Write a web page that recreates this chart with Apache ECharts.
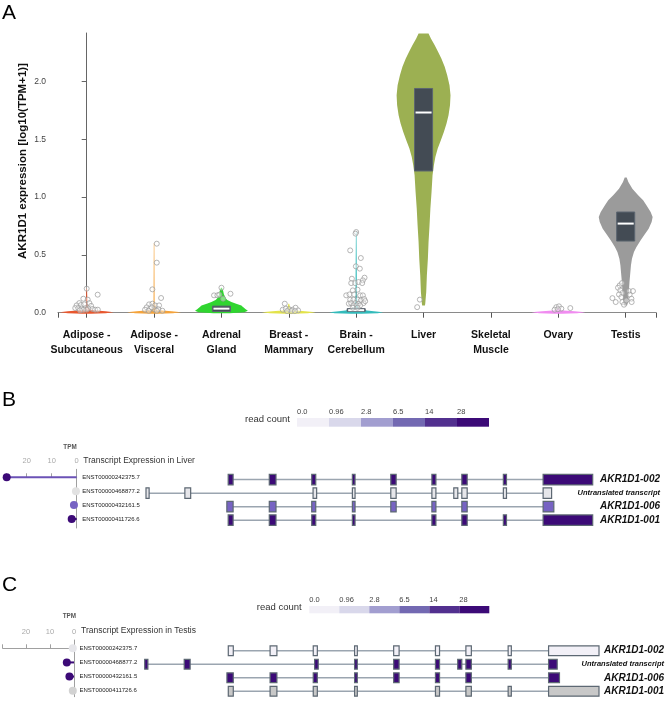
<!DOCTYPE html>
<html><head><meta charset="utf-8">
<script src="https://cdn.jsdelivr.net/npm/echarts@6/dist/echarts.min.js"></script>
<style>html,body{margin:0;padding:0;background:#fff}#c{width:667px;height:702px}</style>
</head><body><div id="c"></div>
<script>
// ---------- Panel A data ----------
const categories = ['Adipose -\nSubcutaneous','Adipose -\nVisceral','Adrenal\nGland','Breast -\nMammary','Brain -\nCerebellum','Liver','Skeletal\nMuscle','Ovary','Testis'];
const yTicks = [0, 0.5, 1.0, 1.5, 2.0];
// violin profiles: [value, relative half-width]
const violinSubc = [[-0.01,0.15],[-0.004,0.7],[0.004,1.0],[0.012,0.7],[0.02,0.35],[0.028,0.1],[0.06,0.03],[0.21,0.012]];
const violinVisc = [[-0.01,0.15],[-0.004,0.7],[0.004,1.0],[0.012,0.65],[0.02,0.3],[0.03,0.08],[0.1,0.02],[0.6,0.01]];
const violinAdrenal = [[-0.004,0.3],[0.004,0.85],[0.016,0.98],[0.03,0.9],[0.05,0.8],[0.063,0.74],[0.08,0.52],[0.092,0.37],[0.11,0.22],[0.121,0.17],[0.16,0.09],[0.193,0.06],[0.216,0.015]];
const violinBreast = [[-0.01,0.15],[-0.004,0.7],[0.004,1.0],[0.012,0.6],[0.02,0.25],[0.028,0.06],[0.078,0.015]];
const violinBrain = [[-0.01,0.2],[-0.004,0.8],[0.004,1.0],[0.012,0.65],[0.02,0.4],[0.03,0.22],[0.045,0.09],[0.08,0.04],[0.2,0.025],[0.4,0.02],[0.7,0.01]];
const violinLiver = [[0.063,0.05],[0.078,0.062],[0.179,0.099],[0.323,0.123],[0.467,0.16],[0.612,0.185],[0.756,0.222],[0.9,0.253],[1.044,0.296],[1.189,0.333],[1.275,0.383],[1.347,0.438],[1.42,0.525],[1.492,0.642],[1.564,0.753],[1.636,0.852],[1.708,0.926],[1.795,0.981],[1.881,1.0],[1.968,0.963],[2.055,0.877],[2.127,0.784],[2.199,0.66],[2.257,0.537],[2.314,0.414],[2.372,0.272],[2.415,0.185]];
const violinOvary = [[-0.01,0.15],[-0.004,0.7],[0.004,1.0],[0.012,0.6],[0.02,0.2],[0.028,0.06],[0.055,0.015]];
const violinTestis = [[0.063,0.05],[0.092,0.093],[0.265,0.141],[0.41,0.196],[0.467,0.233],[0.525,0.307],[0.568,0.4],[0.626,0.556],[0.675,0.696],[0.727,0.852],[0.785,0.963],[0.828,1.0],[0.871,0.926],[0.929,0.77],[0.972,0.648],[1.016,0.463],[1.073,0.248],[1.131,0.1],[1.169,0.037]];
const violins = [violinSubc, violinVisc, violinAdrenal, violinBreast, violinBrain, violinLiver, null, violinOvary, violinTestis];
// box stats: [q1, median, q3]
const boxAdrenal = [0.011, 0.035, 0.057];
const boxBrain = [0.012, 0.022, 0.035];
const boxLiver = [1.226, 1.732, 1.94];
const boxTestis = [0.62, 0.771, 0.871];
const boxes = [null, null, boxAdrenal, null, boxBrain, boxLiver, null, null, boxTestis];
// sample points: [jitter offset (category units), value]
const ptsSubc = [[0,0.208],[0.163,0.156],[-0.05,0.121],[0.015,0.113],[-0.11,0.083],[0.04,0.083],[-0.15,0.063],[-0.085,0.066],[-0.035,0.072],[0.065,0.059],[-0.17,0.04],[-0.125,0.04],[-0.075,0.036],[-0.015,0.04],[0.025,0.036],[0.085,0.032],[0.125,0.026],[0.165,0.026],[0,0.026],[-0.05,0.024],[-0.1,0.02]];
const ptsVisc = [[0.04,0.597],[0.04,0.433],[-0.025,0.202],[0.104,0.127],[-0.074,0.072],[-0.025,0.078],[-0.11,0.046],[0.015,0.063],[0.074,0.063],[-0.134,0.026],[-0.06,0.033],[0.005,0.03],[0.064,0.03],[0.123,0.017],[-0.08,0.017],[0.04,0.017],[-0.035,0.046]];
const ptsAdrenal = [[0,0.216],[-0.11,0.15],[-0.06,0.15],[-0.03,0.156],[0.134,0.164],[0.025,0.121]];
const ptsBreast = [[-0.06,0.078],[-0.09,0.026],[-0.045,0.035],[0.005,0.03],[0.055,0.026],[0.1,0.043],[0.138,0.02],[-0.025,0.014],[0.04,0.014],[0.09,0.014]];
const ptsBrain = [[0,0.698],[-0.01,0.684],[-0.089,0.539],[0.069,0.473],[-0.005,0.401],[0.054,0.381],[0.124,0.303],[-0.064,0.294],[0.099,0.28],[-0.074,0.256],[-0.015,0.256],[0.035,0.265],[0.089,0.256],[0.02,0.199],[-0.05,0.193],[-0.148,0.15],[-0.099,0.158],[-0.03,0.158],[0.059,0.15],[0.099,0.15],[-0.089,0.112],[-0.04,0.112],[0.02,0.112],[0.069,0.106],[0.119,0.118],[-0.109,0.078],[-0.074,0.083],[-0.015,0.083],[0.035,0.078],[0.109,0.083],[-0.04,0.063],[0.01,0.063],[0.059,0.063],[-0.05,0.043],[0.02,0.043],[0.134,0.1]];
const ptsLiver = [[-0.055,0.113],[-0.095,0.048]];
const ptsOvary = [[-0.03,0.048],[0.01,0.055],[0.045,0.035],[-0.055,0.026],[0.178,0.04],[-0.005,0.03]];
const ptsTestis = [[-0.089,0.236],[-0.055,0.256],[-0.114,0.216],[-0.079,0.193],[-0.049,0.17],[-0.099,0.158],[-0.064,0.135],[0.049,0.187],[0.108,0.187],[0.059,0.156],[0.085,0.121],[-0.197,0.126],[-0.148,0.092],[-0.049,0.092],[-0.025,0.069],[0.089,0.092],[0.01,0.106]];
const points = [ptsSubc, ptsVisc, ptsAdrenal, ptsBreast, ptsBrain, ptsLiver, [], ptsOvary, ptsTestis];

// ---------- Panels B / C data ----------
const transcriptIds = ['ENST00000242375.7','ENST00000468877.2','ENST00000432161.5','ENST00000411726.6'];
const transcriptNames = ['AKR1D1-002','Untranslated transcript','AKR1D1-006','AKR1D1-001'];
// exon [start, end] in relative gene coordinates (0-1000)
const exons002 = [[184,195],[276,291],[371,380],[462,468],[548,560],[640,649],[707,719],[800,807],[889,1000]];
const exonsUntr = [[0,7],[87,100],[374,382],[462,468],[548,560],[640,649],[689,698],[707,719],[800,807],[889,908]];
const exons006 = [[181,195],[276,291],[371,380],[462,468],[548,560],[640,649],[707,719],[889,913]];
const exons001 = [[184,195],[276,291],[371,380],[462,468],[640,649],[707,719],[800,807],[889,1000]];
const transcriptExons = [exons002, exonsUntr, exons006, exons001];
const tpmLiver = [28, 0.3, 1.1, 2.0];
const tpmTestis = [0.5, 3.0, 1.9, 0.5];
const tpmTicks = [0, 10, 20];
const readCountLabels = ['0.0','0.96','2.8','6.5','14','28'];

// ---------- styles ----------
const FONT = '"Liberation Sans", Arial, Helvetica, sans-serif';
const tissueColors = ['#e8572e','#f5a33a','#30d530','#e3e34a','#33bbbb','#9cb052','#aaaaff','#f08cf0','#9b9b9b'];
const legendColors = ['#f2f0f7','#d9d8eb','#a29ed0','#7369b2','#52308f','#3c0a77'];
const exonColorsLiver = ['#3c0a77','#e6e6ea','#7763c3','#3c0a77'];
const exonColorsTestis = ['#f2f0f7','#3c0a77','#3c0a77','#c8c8c8'];
const dotColorsLiver = ['#3c0a77','#e2e2e2','#7763c3','#3c0a77'];
const lineColorsLiver = ['#6b52b6','#e2e2e2','#7763c3','#3c0a77'];
const dotColorsTestis = ['#e6e6ea','#3c0a77','#3c0a77','#d2d2d2'];
const lineColorsTestis = ['#e6e6ea','#3c0a77','#3c0a77','#d2d2d2'];
const HALF = 0.4, BOXHALF = 0.134;

const chart = echarts.init(document.getElementById('c'), null, {renderer:'canvas', width:667, height:702});

function violinItem(params, api) {
  const i = api.value(0);
  const prof = violins[i];
  const children = [];
  if (prof) {
    const right = prof.map(p => api.coord([i + p[1]*HALF, p[0]]));
    const left = prof.slice().reverse().map(p => api.coord([i - p[1]*HALF, p[0]]));
    children.push({type:'polygon', shape:{points: right.concat(left)},
      style:{fill: tissueColors[i]}});
  }
  const b = boxes[i];
  if (b) {
    const p1 = api.coord([i - BOXHALF, b[2]]);
    const p2 = api.coord([i + BOXHALF, b[0]]);
    const pm1 = api.coord([i - BOXHALF, b[1]]);
    const pm2 = api.coord([i + BOXHALF, b[1]]);
    children.push({type:'rect', shape:{x:p1[0], y:p1[1], width:p2[0]-p1[0], height:p2[1]-p1[1]},
      style:{fill:'#434b54', stroke:'#5b6570', lineWidth:1}});
    children.push({type:'line', shape:{x1:pm1[0]+1, y1:pm1[1], x2:pm2[0]-1, y2:pm2[1]},
      style:{stroke:'#ffffff', lineWidth:2}});
  }
  return {type:'group', children};
}

function makeExonRender(colors, hf) {
  return function(params, api) {
    const row = api.value(0);
    const a = api.coord([api.value(1), row]);
    const b = api.coord([api.value(2), row]);
    const unit = Math.abs(api.coord([0, row+1])[1] - a[1]);
    const h = unit * hf;
    return {type:'rect', shape:{x:a[0], y:a[1]-h/2, width:Math.max(b[0]-a[0],2), height:h},
      style:{fill: colors[row], stroke:'#5d6873', lineWidth:1.2}};
  };
}
function intronRender(params, api) {
  const row = api.value(0);
  const a = api.coord([api.value(1), row]);
  const b = api.coord([api.value(2), row]);
  return {type:'line', shape:{x1:a[0], y1:a[1], x2:b[0], y2:b[1]}, style:{stroke:'#9ba5b0', lineWidth:1.5}};
}
function makeLollipop(dotColors, lineColors) {
  return function(params, api) {
    const row = api.value(0);
    const a = api.coord([0, row]);
    const b = api.coord([api.value(1), row]);
    return {type:'group', children:[
      {type:'line', shape:{x1:a[0], y1:a[1], x2:b[0], y2:b[1]}, style:{stroke:lineColors[row], lineWidth:2}},
      {type:'circle', shape:{cx:b[0], cy:b[1], r:4}, style:{fill:dotColors[row]}}
    ]};
  };
}
function legendRender(params, api) {
  const i = api.value(0);
  const a = api.coord([i, 1]);
  const b = api.coord([i+1, 0]);
  return {type:'rect', shape:{x:a[0], y:a[1], width:b[0]-a[0], height:b[1]-a[1]}, style:{fill: legendColors[i]}};
}

const introns = transcriptExons.map((ex, r) => [r, ex[0][0], ex[ex.length-1][1]]);
const exonData = [];
transcriptExons.forEach((ex, r) => ex.forEach(e => exonData.push([r, e[0], e[1]])));
const scatterData = [];
points.forEach((arr, i) => arr.forEach(p => scatterData.push([i + p[0], p[1]])));

const rowAxisLabel = {customValues:[0,1,2,3], formatter: v => transcriptIds[Math.round(v)], fontSize:6, color:'#222', margin:5.5, fontFamily:FONT};
function nameAxisLabel(margin) {
  return {customValues:[0,1,2,3], align:'right', margin, fontFamily:FONT,
    formatter: v => { const r = Math.round(v); return r === 1 ? '{u|' + transcriptNames[r] + '}' : '{a|' + transcriptNames[r] + '}'; },
    rich:{a:{fontSize:10, fontWeight:'bold', fontStyle:'italic', color:'#111', fontFamily:FONT},
          u:{fontSize:7.5, fontWeight:'bold', fontStyle:'italic', color:'#111', fontFamily:FONT}}};
}
function tpmX(grid, max, margin) {
  return {gridIndex:grid, type:'value', min:0, max, inverse:true, position:'top',
    axisLine:{show:true, lineStyle:{color:'#a0a0a0'}},
    axisTick:{show:true, customValues:[0,10,20,max], length:4, lineStyle:{color:'#a0a0a0'}},
    axisLabel:{customValues:tpmTicks, fontSize:7.5, color:'#aaaaaa', margin, fontFamily:FONT},
    splitLine:{show:false}};
}
function legendX(grid) {
  return {gridIndex:grid, type:'value', min:0, max:6, position:'top',
    axisLine:{show:false}, axisTick:{show:false}, splitLine:{show:false},
    axisLabel:{customValues:[0,1,2,3,4,5], formatter: v => readCountLabels[Math.round(v)], align:'left', fontSize:7.5, color:'#444', margin:2, fontFamily:FONT}};
}
const hiddenX = (g) => ({gridIndex:g, type:'value', min:0, max:1000, show:false});
const hiddenY = (g) => ({gridIndex:g, type:'value', min:0, max:1, show:false});

const option = {
  animation:false,
  textStyle:{fontFamily:FONT},
  grid:[
    {left:58, top:33, width:598, height:282},
    {left:6.7, top:469.3, width:70, height:58.7},
    {left:146, top:470, width:446.7, height:60},
    {left:297, top:418, width:192, height:8.7},
    {left:2.7, top:640, width:71.3, height:56.7},
    {left:144.7, top:640, width:454.6, height:60},
    {left:309.3, top:606, width:180, height:7.3}
  ],
  xAxis:[
    {gridIndex:0, type:'value', min:-0.426, max:8.45,
      axisLine:{show:true, lineStyle:{color:'#8a8a8a', width:1.2}},
      axisTick:{show:true, customValues:[-0.426,0,1,2,3,4,5,6,7,8,8.45], length:5, lineStyle:{color:'#555'}},
      axisLabel:{customValues:[0,1,2,3,4,5,6,7,8], formatter: v => categories[Math.round(v)], fontSize:10.5, fontWeight:'bold', color:'#111', lineHeight:15, margin:13, fontFamily:FONT},
      splitLine:{show:false}},
    tpmX(1, 28, 4.5),
    hiddenX(2),
    legendX(3),
    tpmX(4, 29.7, 4.5),
    hiddenX(5),
    legendX(6)
  ],
  yAxis:[
    {gridIndex:0, type:'value', min:-0.02, max:2.42, offset:5,
      axisLine:{show:true, lineStyle:{color:'#666'}},
      axisTick:{show:true, customValues:yTicks, length:5, lineStyle:{color:'#666'}},
      axisLabel:{customValues:yTicks, formatter: v => v.toFixed(1), fontSize:8.5, color:'#444', margin:7, fontFamily:FONT},
      splitLine:{show:false}},
    {gridIndex:1, type:'value', min:-0.576, max:3.647, inverse:true, position:'right',
      axisLine:{show:true, lineStyle:{color:'#a0a0a0'}}, axisTick:{show:false}, splitLine:{show:false}, axisLabel:rowAxisLabel},
    {gridIndex:2, type:'value', min:-0.71, max:3.725, inverse:true, position:'right',
      axisLine:{show:false}, axisTick:{show:false}, splitLine:{show:false}, axisLabel:nameAxisLabel(67.3)},
    hiddenY(3),
    {gridIndex:4, type:'value', min:-0.587, max:3.425, inverse:true, position:'right',
      axisLine:{show:true, lineStyle:{color:'#a0a0a0'}}, axisTick:{show:false}, splitLine:{show:false}, axisLabel:rowAxisLabel},
    {gridIndex:5, type:'value', min:-0.79, max:3.644, inverse:true, position:'right',
      axisLine:{show:false}, axisTick:{show:false}, splitLine:{show:false}, axisLabel:nameAxisLabel(65)},
    hiddenY(6)
  ],
  series:[
    {type:'custom', xAxisIndex:0, yAxisIndex:0, renderItem:violinItem,
      data: violins.map((v,i) => [i, 0]).filter((d,i) => violins[i] || boxes[i]), silent:true},
    {type:'scatter', xAxisIndex:0, yAxisIndex:0, data:scatterData, symbol:'circle', symbolSize:5,
      itemStyle:{color:'rgba(255,255,255,0.5)', borderColor:'#999', borderWidth:0.9}, silent:true},
    {type:'custom', xAxisIndex:2, yAxisIndex:2, renderItem:intronRender, data:introns, silent:true},
    {type:'custom', xAxisIndex:2, yAxisIndex:2, renderItem:makeExonRender(exonColorsLiver, 0.78), data:exonData, silent:true},
    {type:'custom', xAxisIndex:1, yAxisIndex:1, renderItem:makeLollipop(dotColorsLiver, lineColorsLiver), data:tpmLiver.map((t,r)=>[r,t]), silent:true},
    {type:'custom', xAxisIndex:3, yAxisIndex:3, renderItem:legendRender, data:legendColors.map((c,i)=>[i,0]), silent:true},
    {type:'custom', xAxisIndex:5, yAxisIndex:5, renderItem:intronRender, data:introns, silent:true},
    {type:'custom', xAxisIndex:5, yAxisIndex:5, renderItem:makeExonRender(exonColorsTestis, 0.72), data:exonData, silent:true},
    {type:'custom', xAxisIndex:4, yAxisIndex:4, renderItem:makeLollipop(dotColorsTestis, lineColorsTestis), data:tpmTestis.map((t,r)=>[r,t]), silent:true},
    {type:'custom', xAxisIndex:6, yAxisIndex:6, renderItem:legendRender, data:legendColors.map((c,i)=>[i,0]), silent:true}
  ],
  graphic:[
    {type:'text', x:2, y:13, style:{text:'A', fontSize:21, fontFamily:FONT, fill:'#000', align:'left', verticalAlign:'middle'}},
    {type:'text', x:2, y:400, style:{text:'B', fontSize:21, fontFamily:FONT, fill:'#000', align:'left', verticalAlign:'middle'}},
    {type:'text', x:2, y:585, style:{text:'C', fontSize:21, fontFamily:FONT, fill:'#000', align:'left', verticalAlign:'middle'}},
    {type:'text', x:22.5, y:161, rotation:Math.PI/2, style:{text:'AKR1D1 expression [log10(TPM+1)]', fontSize:11.5, fontWeight:'bold', fontFamily:FONT, fill:'#111', align:'center', verticalAlign:'middle'}},
    {type:'text', x:290, y:419.5, style:{text:'read count', fontSize:9.5, fontFamily:FONT, fill:'#333', align:'right', verticalAlign:'middle'}},
    {type:'text', x:301.7, y:607, style:{text:'read count', fontSize:9.5, fontFamily:FONT, fill:'#333', align:'right', verticalAlign:'middle'}},
    {type:'text', x:70, y:447, style:{text:'TPM', fontSize:6.3, fontWeight:'bold', fontFamily:FONT, fill:'#555', align:'center', verticalAlign:'middle'}},
    {type:'text', x:69.3, y:616, style:{text:'TPM', fontSize:6.3, fontWeight:'bold', fontFamily:FONT, fill:'#555', align:'center', verticalAlign:'middle'}},
    {type:'text', x:83.3, y:461, style:{text:'Transcript Expression in Liver', fontSize:8.5, fontFamily:FONT, fill:'#333', align:'left', verticalAlign:'middle'}},
    {type:'text', x:81, y:631, style:{text:'Transcript Expression in Testis', fontSize:8.5, fontFamily:FONT, fill:'#333', align:'left', verticalAlign:'middle'}}
  ]
};
chart.setOption(option);
</script>
</body></html>
